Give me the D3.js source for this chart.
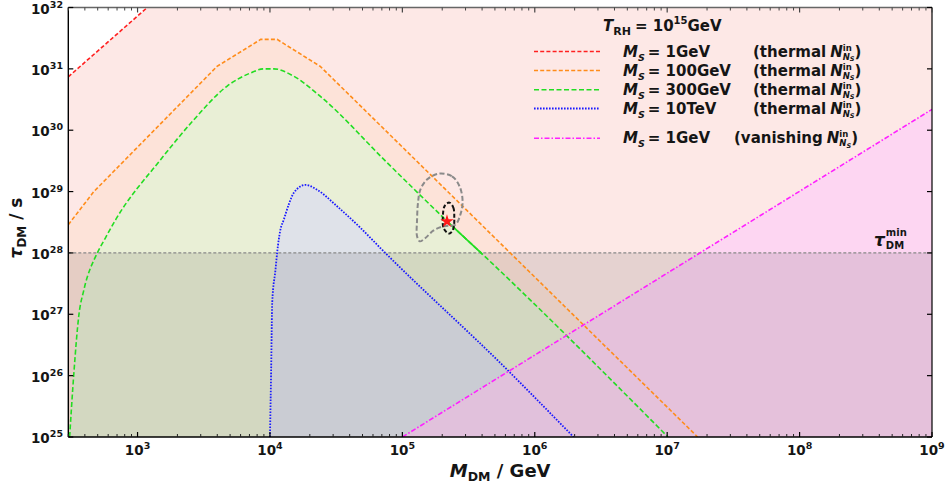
<!DOCTYPE html>
<html><head><meta charset="utf-8">
<script src="https://cdn.jsdelivr.net/npm/d3@7"></script>
<style>
body{margin:0;background:#fff}
svg{display:block}
text{font-family:"DejaVu Sans",sans-serif;font-weight:bold;fill:#151515}
</style>
</head><body>
<svg id="c" width="947" height="487"></svg>
<script>
// ---- data (log10 of M_DM in GeV, log10 of tau in s) ----
const xDomainExp = [2.477, 9];
const yDomainExp = [25, 32];
const xTickExps = [3, 4, 5, 6, 7, 8, 9];
const yTickExps = [25, 26, 27, 28, 29, 30, 31, 32];
const tauMinExp = 28;
const redCurve = [[2.477, 30.87], [3.2, 32.24]];
const orangeCurve = [[2.477, 28.46], [2.67, 29.0], [3.60, 31.04], [3.93, 31.48], [4.054, 31.48], [4.38, 31.04], [7.23, 25.0]];
const greenCurve = [[2.487, 25.0], [2.519, 26.04], [2.557, 26.99], [2.595, 27.40], [2.696, 28.0], [2.751, 28.22], [2.834, 28.54], [3.174, 29.52], [3.425, 30.17], [3.677, 30.72], [3.85, 30.93], [3.953, 31.0], [4.029, 31.0], [4.18, 30.88], [4.381, 30.55], [4.885, 29.47], [5.337, 28.52], [5.639, 27.91], [7.006, 25.0]];
const greenSolidRange = [5.337, 5.60];
const blueCurve = [[4.0, 25.0], [4.009, 26.10], [4.017, 27.19], [4.042, 27.73], [4.054, 28.0], [4.079, 28.38], [4.104, 28.54], [4.142, 28.79], [4.18, 28.98], [4.268, 29.11], [4.356, 29.03], [4.507, 28.76], [4.683, 28.41], [4.834, 28.08], [5.79, 26.10], [6.293, 25.0]];
const magentaCurve = [[5.0, 25.0], [9.0, 30.34]];
const grayContour = [[5.274, 29.292], [5.375, 29.248], [5.432, 29.085], [5.455, 28.841], [5.438, 28.624], [5.400, 28.461], [5.312, 28.434], [5.236, 28.368], [5.174, 28.244], [5.131, 28.189], [5.111, 28.271], [5.111, 28.543], [5.118, 28.815], [5.136, 29.032], [5.186, 29.195]];
const blackContour = [[5.355, 28.82], [5.385, 28.74], [5.392, 28.575], [5.385, 28.396], [5.355, 28.315], [5.313, 28.396], [5.306, 28.608], [5.321, 28.771]];
const bestFit = [5.337, 28.515];
const legendItems = [
  {ms: "1GeV", note: "thermal", color: "#ff2020", dash: "4,2.2", w: 1.6},
  {ms: "100GeV", note: "thermal", color: "#ff8c1a", dash: "4,2.2", w: 1.6},
  {ms: "300GeV", note: "thermal", color: "#22dd22", dash: "5,2.5", w: 1.6},
  {ms: "10TeV", note: "thermal", color: "#1a1aff", dash: "1.6,1.4", w: 1.8},
  {ms: "1GeV", note: "vanishing", color: "#ff20ff", dash: "5,2,1.5,2", w: 1.6}
];

const svg = d3.select('#c');
const L = 68.3, R = 932, T = 7.5, B = 437;
const x = d3.scaleLog().domain(xDomainExp.map(e => Math.pow(10, e))).range([L, R]);
const y = d3.scaleLog().domain(yDomainExp.map(e => Math.pow(10, e))).range([B, T]);
const px = d => x(Math.pow(10, d[0]));
const py = d => y(Math.pow(10, d[1]));

const defs = svg.append('defs');
defs.append('clipPath').attr('id', 'plotclip').append('rect')
  .attr('x', L).attr('y', T).attr('width', R - L).attr('height', B - T);
defs.append('clipPath').attr('id', 'solidclip').append('rect')
  .attr('x', x(Math.pow(10, greenSolidRange[0]))).attr('y', T)
  .attr('width', x(Math.pow(10, greenSolidRange[1])) - x(Math.pow(10, greenSolidRange[0])))
  .attr('height', B - T);

const g = svg.append('g').attr('clip-path', 'url(#plotclip)');

g.append('rect').attr('x', L).attr('y', T).attr('width', R - L).attr('height', B - T).attr('fill', '#fde8e6');
g.append('path').datum(redCurve)
  .attr('d', d3.area().x(px).y0(py).y1(T))
  .attr('fill', '#ffffff');
const below = c => d3.area().x(px).y0(B).y1(py).curve(c);
g.append('path').datum(orangeCurve).attr('d', below(d3.curveLinear)).attr('fill', '#fde3d9');
g.append('path').datum(greenCurve).attr('d', below(d3.curveMonotoneX)).attr('fill', '#e9efd6');
g.append('path').datum(blueCurve).attr('d', below(d3.curveMonotoneX)).attr('fill', '#dfe2e9');
g.append('path').datum(magentaCurve).attr('d', below(d3.curveLinear)).attr('fill', '#fdd3f4').attr('opacity', 0.88);
g.append('rect').attr('x', L).attr('y', y(Math.pow(10, tauMinExp))).attr('width', R - L)
  .attr('height', B - y(Math.pow(10, tauMinExp))).attr('fill', '#000').attr('opacity', 0.095);
g.append('line').attr('x1', L).attr('x2', R).attr('y1', y(Math.pow(10, tauMinExp))).attr('y2', y(Math.pow(10, tauMinExp)))
  .attr('stroke', '#888').attr('stroke-width', 1.2).attr('stroke-dasharray', '3,2');

const ln = c => d3.line().x(px).y(py).curve(c);
const curves = [
  [redCurve, d3.curveLinear, legendItems[0]],
  [orangeCurve, d3.curveLinear, legendItems[1]],
  [greenCurve, d3.curveMonotoneX, legendItems[2]],
  [blueCurve, d3.curveMonotoneX, legendItems[3]],
  [magentaCurve, d3.curveLinear, legendItems[4]]
];
curves.forEach(([data, c, st]) => {
  g.append('path').datum(data).attr('d', ln(c)).attr('fill', 'none')
    .attr('stroke', st.color).attr('stroke-width', st.w).attr('stroke-dasharray', st.dash);
});
g.append('g').attr('clip-path', 'url(#solidclip)').append('path').datum(greenCurve)
  .attr('d', ln(d3.curveMonotoneX)).attr('fill', 'none').attr('stroke', legendItems[2].color).attr('stroke-width', 1.7);

g.append('path').datum(grayContour).attr('d', d3.line().x(px).y(py).curve(d3.curveCatmullRomClosed))
  .attr('fill', 'none').attr('stroke', '#8a8a8a').attr('stroke-width', 2).attr('stroke-dasharray', '5,2.5');
g.append('path').datum(blackContour).attr('d', d3.line().x(px).y(py).curve(d3.curveCatmullRomClosed))
  .attr('fill', 'none').attr('stroke', '#111').attr('stroke-width', 2).attr('stroke-dasharray', '4,2.2');
g.append('path').attr('d', d3.symbol(d3.symbolStar).size(55)())
  .attr('transform', `translate(${px(bestFit)},${py(bestFit)})`).attr('fill', '#ff1a1a');

// frame
const fr = svg.append('g');
fr.append('line').attr('x1', L).attr('x2', R).attr('y1', T).attr('y2', T).attr('stroke', '#666').attr('stroke-width', 1.4);
fr.append('line').attr('x1', L).attr('x2', R).attr('y1', B).attr('y2', B).attr('stroke', '#000').attr('stroke-width', 1.4);
fr.append('line').attr('x1', L).attr('x2', L).attr('y1', T).attr('y2', B).attr('stroke', '#000').attr('stroke-width', 1.4);
fr.append('line').attr('x1', R).attr('x2', R).attr('y1', T).attr('y2', B).attr('stroke', '#000').attr('stroke-width', 1.2);

const xMajor = xTickExps.map(e => Math.pow(10, e));
const xMinor = [];
for (let e = 2; e <= 8; e++) for (let k = 2; k <= 9; k++) { const v = k * Math.pow(10, e); if (v >= x.domain()[0] && v <= x.domain()[1]) xMinor.push(v); }
xMinor.forEach(v => {
  fr.append('line').attr('x1', x(v)).attr('x2', x(v)).attr('y1', B).attr('y2', B - 3).attr('stroke', '#222').attr('stroke-width', 1);
  fr.append('line').attr('x1', x(v)).attr('x2', x(v)).attr('y1', T).attr('y2', T + 3).attr('stroke', '#444').attr('stroke-width', 1);
});
xMajor.forEach(v => {
  fr.append('line').attr('x1', x(v)).attr('x2', x(v)).attr('y1', B).attr('y2', B - 5).attr('stroke', '#000').attr('stroke-width', 1.2);
  fr.append('line').attr('x1', x(v)).attr('x2', x(v)).attr('y1', T).attr('y2', T + 5).attr('stroke', '#444').attr('stroke-width', 1.2);
});
yTickExps.forEach(e => {
  const yy = y(Math.pow(10, e));
  fr.append('line').attr('x1', L).attr('x2', L + 5).attr('y1', yy).attr('y2', yy).attr('stroke', '#000').attr('stroke-width', 1.2);
  fr.append('line').attr('x1', R).attr('x2', R - 5).attr('y1', yy).attr('y2', yy).attr('stroke', '#000').attr('stroke-width', 1.2);
});

xTickExps.forEach(e => {
  const t = svg.append('text').attr('x', x(Math.pow(10, e))).attr('y', 455).attr('text-anchor', 'middle').style('font-size', '13.5px');
  t.append('tspan').text('10');
  t.append('tspan').attr('dy', -6).style('font-size', '9.5px').text(e);
});
yTickExps.forEach(e => {
  const t = svg.append('text').attr('x', 63).attr('y', y(Math.pow(10, e)) + 6).attr('text-anchor', 'end').style('font-size', '13.5px');
  t.append('tspan').text('10');
  t.append('tspan').attr('dy', -6).style('font-size', '9.5px').text(e);
});

function rich(parent, x0, y0, parts, fs) {
  let cx = x0, mark = null, markW = 0;
  parts.forEach(p => {
    if (p.gap) { cx += p.gap; return; }
    if (p.reset) { cx = Math.max(cx, mark + markW); return; }
    const t = parent.append('text').attr('x', cx).attr('y', y0 + (p.dy || 0))
      .style('font-size', (p.s || fs) + 'px').style('font-style', p.it ? 'italic' : 'normal').text(p.t);
    const w = t.node().getComputedTextLength();
    if (p.hold) { mark = cx; markW = w; } else cx += w;
  });
  return cx;
}

const xt = svg.append('text').attr('x', (L + R) / 2).attr('y', 477).attr('text-anchor', 'middle').style('font-size', '18px');
xt.append('tspan').style('font-style', 'italic').text('M');
xt.append('tspan').attr('dy', 4).style('font-size', '12.5px').text('DM');
xt.append('tspan').attr('dy', -4).text(' / GeV');
const yt = svg.append('text').attr('transform', `translate(22,228) rotate(-90)`).attr('text-anchor', 'middle').style('font-size', '17px');
yt.append('tspan').style('font-style', 'italic').text('τ');
yt.append('tspan').attr('dy', 4).style('font-size', '12px').text('DM');
yt.append('tspan').attr('dy', -4).text(' / s');

const tg = svg.append('g');
rich(tg, 874, 246, [{t: 'τ', it: true, s: 17}, {gap: 1}, {t: 'min', s: 10, dy: -10, hold: true}, {t: 'DM', s: 10, dy: 2.5}, {reset: true}], 17);

const lg = svg.append('g');
rich(lg, 603, 31, [{t: 'T', it: true}, {t: 'RH', s: 11, dy: 4}, {gap: 4}, {t: '= 10'}, {t: '15', s: 10, dy: -7}, {t: 'GeV'}], 15);
const rowY = [51.5, 70.5, 89.8, 108.5, 138.3];
legendItems.forEach((it, i) => {
  const yy = rowY[i];
  lg.append('line').attr('x1', 534).attr('x2', 600).attr('y1', yy).attr('y2', yy)
    .attr('stroke', it.color).attr('stroke-width', it.w).attr('stroke-dasharray', it.dash);
  rich(lg, 623, yy + 5, [{t: 'M', it: true}, {t: 'S', it: true, s: 9.5, dy: 4}, {gap: 3}, {t: '= ' + it.ms}], 15);
  const nx = it.note === 'thermal' ? 753 : 734;
  rich(lg, nx, yy + 5, [{t: '(' + it.note}, {gap: 4}, {t: 'N', it: true}, {t: 'in', s: 8.5, dy: -6, hold: true},
    {t: 'N', it: true, s: 8.5, dy: 3}, {t: 'S', it: true, s: 6.5, dy: 4.5}, {reset: true}, {t: ')'}], 15);
});
</script>
</body></html>
